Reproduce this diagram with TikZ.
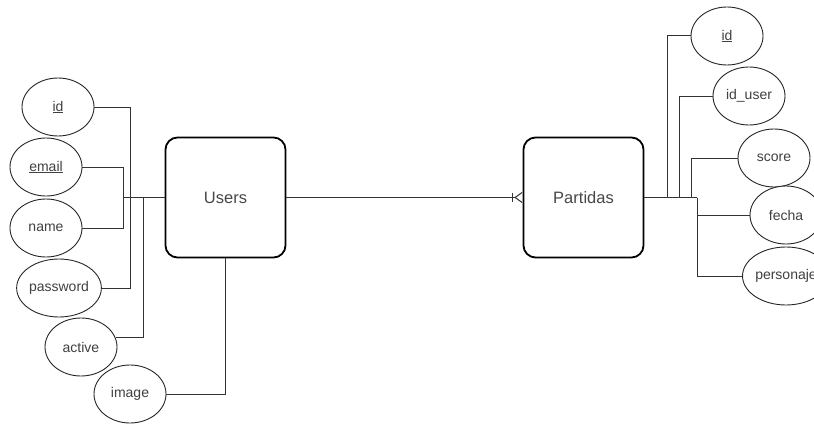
\documentclass[tikz,border=0pt]{standalone}
\usepackage{fontspec}
\setmainfont{Liberation Sans}
\usetikzlibrary{arrows.meta,shapes.geometric}
\begin{document}
\begin{tikzpicture}[x=1pt,y=-1pt,
  entity/.style={draw=black, line width=1.8pt, rounded corners=12pt,
    minimum width=120pt, minimum height=120pt, text=black!72,
    font=\fontsize{16.5}{18}\selectfont},
  attr/.style={ellipse, draw=black!85, line width=0.9pt, fill=white,
    minimum width=72pt, minimum height=58pt, inner sep=0pt, text=black!75,
    font=\fontsize{14}{16}\selectfont},
  link/.style={draw=black!80, line width=1pt},
  crowfoot/.style={-{Bar[width=9pt,line width=1pt,sep=1pt]Straight Barb[reversed,length=7pt,width=10pt,line width=1pt]}}
]
\useasboundingbox (0,0) rectangle (814,428);
\begin{scope}
\clip (0,0) rectangle (814,428);

% entities
\node[entity] (users) at (225.5,197.5) {Users};
\node[entity] (partidas) at (583.5,197.5) {Partidas};

% attributes of Users
\node[attr] (uid) at (58,107) {\underline{id}};
\node[attr] (uemail) at (46,167) {\underline{email}};
\node[attr] (uname) at (46,228) {name};
\node[attr] (upass) at (59,288) {password};
\node[attr] (uactive) at (81,347) {active};
\node[attr] (uimage) at (130,394) {image};

% attributes of Partidas
\node[attr] (pid) at (727,36) {\underline{id}};
\node[attr] (piduser) at (749,96) {id\_user};
\node[attr] (pscore) at (774,158) {score};
\node[attr] (pfecha) at (786,215) {fecha};
\node[attr] (ppers) at (786,276) {personaje};

% junction points
\coordinate (hubL) at (124,197.5);
\coordinate (jact) at (143,197.5);
\coordinate (jid) at (667,197.5);
\coordinate (juser) at (679,197.5);
\coordinate (jscore) at (691,197.5);
\coordinate (hubR) at (697,197.5);

% Users connectors
\draw[link] (uid.east) -- ++(36,0) |- (upass.east);
\draw[link] (uemail.east) -- ++(41,0) |- (uname.east);
\draw[link] (hubL) -- (users.west);
\draw[link] (uactive.15) -| (jact);
\draw[link] (uimage.east) -| (users.south);

% relationship
\draw[link, crowfoot] (users.east) -- (partidas.west);

% Partidas connectors
\draw[link] (partidas.east) -- (hubR);
\draw[link] (jid) |- (pid.west);
\draw[link] (juser) |- (piduser.west);
\draw[link] (jscore) |- (pscore.west);
\draw[link] (hubR) |- (pfecha.west);
\draw[link] (hubR) |- (ppers.west);
\end{scope}
\end{tikzpicture}
\end{document}
